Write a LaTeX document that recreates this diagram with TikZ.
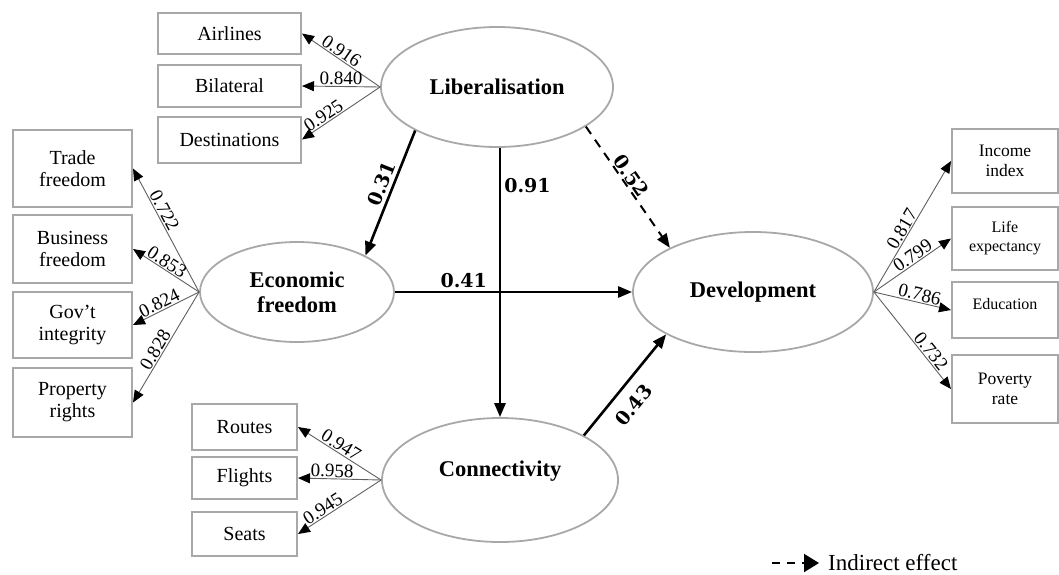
\documentclass[tikz,border=0pt]{standalone}
\usepackage{fontspec}
\setmainfont{Liberation Serif}
\newfontfamily\numfont{DejaVu Serif}
\usetikzlibrary{arrows.meta,shapes.geometric,calc}
\definecolor{boxgray}{RGB}{168,168,168}
\definecolor{linegray}{RGB}{95,95,95}
\begin{document}
\begin{tikzpicture}[x=1pt,y=-1pt,
  box/.style={draw=boxgray, line width=2pt, inner sep=0pt, align=center,
              font=\fontsize{20}{22}\selectfont},
  smallbox/.style={box, font=\fontsize{17.5}{20}\selectfont},
  tinybox/.style={box, font=\fontsize{16}{19}\selectfont},
  lat/.style={ellipse, draw=boxgray, line width=1.8pt, inner sep=0pt, align=center,
              font=\fontsize{22.5}{25}\selectfont\bfseries},
  load/.style={draw=linegray, line width=0.9pt,
               -{Triangle[length=12pt,width=10pt,color=black]}},
  ll/.style={font=\fontsize{19}{20}\selectfont, sloped, above, inner sep=1pt},
  strong/.style={line width=2.6pt, -{Triangle[length=14pt,width=11pt]}},
  sl/.style={font=\numfont\bfseries\fontsize{19}{22}\selectfont, inner sep=3pt}
]
\useasboundingbox (0,0) rectangle (1059,574);

% latent variables
\node[lat, minimum width=232pt, minimum height=120pt] (lib) at (497,87) {Liberalisation};
\node[lat, minimum width=194pt, minimum height=100pt] (eco) at (297,292) {Economic\\freedom};
\node[lat, minimum width=236pt, minimum height=124pt, text depth=22pt] (con) at (500,480) {Connectivity};
\node[lat, minimum width=240pt, minimum height=120pt] (dev) at (753,292) {Development};

% indicators: liberalisation
\node[box, minimum width=143pt, minimum height=41pt] (air) at (229.5,33.5) {Airlines};
\node[box, minimum width=143pt, minimum height=42pt] (bil) at (229.5,86) {Bilateral};
\node[box, minimum width=143pt, minimum height=46pt] (des) at (229.5,139.5) {Destinations};

% indicators: economic freedom
\node[box, minimum width=119pt, minimum height=77pt] (tra) at (72.5,168.5) {Trade\\freedom};
\node[box, minimum width=119pt, minimum height=68pt] (bus) at (72.5,249) {Business\\freedom};
\node[box, minimum width=119pt, minimum height=66pt] (gov) at (72.5,325) {Gov’t\\integrity};
\node[box, minimum width=119pt, minimum height=69pt] (pro) at (72.5,402.5) {Property\\rights};

% indicators: connectivity
\node[box, minimum width=105pt, minimum height=46pt] (rou) at (244.5,427) {Routes};
\node[box, minimum width=105pt, minimum height=42pt] (fli) at (244.5,478) {Flights};
\node[box, minimum width=105pt, minimum height=44pt] (sea) at (244.5,534) {Seats};

% indicators: development
\node[smallbox, minimum width=106pt, minimum height=64pt] (inc) at (1005,161) {Income\\index};
\node[tinybox, minimum width=106pt, minimum height=63pt] (lif) at (1005,238.5) {Life\\expectancy};
\node[tinybox, minimum width=106pt, minimum height=56pt, text depth=12pt] (edu) at (1005,310) {Education};
\node[smallbox, minimum width=106pt, minimum height=68pt] (pov) at (1005,389) {Poverty\\rate};

% loadings
\draw[load] (lib.west) -- node[ll,pos=0.55]{0.916} (air.east);
\draw[load] (lib.west) -- node[ll,pos=0.5]{0.840} (bil.east);
\draw[load] (lib.west) -- node[ll,pos=0.67]{0.925} (des.east);

\draw[load] (eco.west) -- node[ll,pos=0.63]{0.722} (tra.east);
\draw[load] (eco.west) -- node[ll,pos=0.55]{0.853} (bus.east);
\draw[load] (eco.west) -- node[ll,pos=0.55]{0.824} (gov.east);
\draw[load] (eco.west) -- node[ll,pos=0.56]{0.828} (pro.east);

\draw[load] (con.west) -- node[ll,pos=0.53]{0.947} (rou.east);
\draw[load] (con.west) -- node[ll,pos=0.59]{0.958} (fli.east);
\draw[load] (con.west) -- node[ll,pos=0.65]{0.945} (sea.east);

\draw[load] (dev.east) -- node[ll,pos=0.45]{0.817} (inc.west);
\draw[load] (dev.east) -- node[ll,pos=0.56]{0.799} (lif.west);
\draw[load] (dev.east) -- node[ll,pos=0.57]{0.786} (edu.west);
\draw[load] (dev.east) -- node[ll,pos=0.66]{0.732} (pov.west);

% structural paths
\draw[strong] (lib.208) -- node[sl,sloped,above,pos=0.46]{0.31} (eco.28.5);
\draw[strong] (con.north |- lib.south) -- node[sl,right,pos=0.14]{0.91} (con.north);
\draw[strong, line width=2pt, dash pattern=on 9pt off 7pt] (lib.-24.4) -- node[sl,sloped,above,pos=0.45,inner sep=1pt]{0.52} (dev.152.6);
\draw[strong] (eco.east) -- node[sl,above,pos=0.29]{0.41} (dev.west);
\draw[strong] (con.28) -- node[sl,sloped,below,pos=0.42,inner sep=11pt]{0.43} (dev.206.8);

% legend
\coordinate (lg) at (772,563);
\node[font=\fontsize{23}{25}\selectfont, anchor=west, inner sep=0pt] (leg) at (828,563) {Indirect effect};
\draw[line width=2pt, dash pattern=on 8pt off 7pt, shorten >=9pt,
      -{Triangle[length=15pt,width=18pt]}] (lg) -- (leg.west);
\end{tikzpicture}
\end{document}
